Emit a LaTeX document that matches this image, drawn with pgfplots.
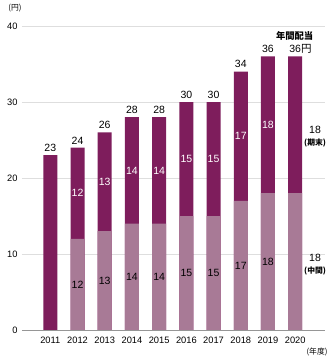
\documentclass[border=0pt]{standalone}
\usepackage{fontspec}
\setmainfont{Liberation Sans}
\newfontfamily\jp{Noto Sans CJK JP}
\usepackage{pgfplots}
\pgfplotsset{compat=1.18}
\usepackage{pgfplotstable}
\usetikzlibrary{calc}
\definecolor{dark}{RGB}{126,29,92}
\definecolor{light}{RGB}{168,122,150}
\definecolor{gridc}{RGB}{222,222,222}
\definecolor{zeroc}{RGB}{150,150,150}
\newcommand\en{\makebox[0pt][l]{\jp 円}}
\pgfplotstableread{
x total interim final tlabel
0 23 0 23 23
1 24 12 12 24
2 26 13 13 26
3 28 14 14 28
4 28 14 14 28
5 30 15 15 30
6 30 15 15 30
7 34 17 17 34
8 36 18 18 36
9 36 18 18 36\en
}\data
\begin{document}
\begin{tikzpicture}
\begin{axis}[
  scale only axis, width=303pt, height=304pt,
  xmin=-1.04, xmax=10.095, ymin=0, ymax=40,
  ytick={0,10,20,30,40},
  xtick={0,...,9}, xticklabels={2011,2012,2013,2014,2015,2016,2017,2018,2019,2020},
  axis line style={draw=none},
  major tick length=0pt,
  ymajorgrids, grid style={draw=gridc, line width=0.8pt},
  tick label style={font=\fontsize{9.3}{10}\selectfont, text=black},
  /pgf/number format/assume math mode=true,
  xticklabel style={yshift=-3pt},
  yticklabel style={xshift=-1pt},
  clip=false,
]
\addplot[ybar, bar width=0.515, bar shift=0pt, fill=dark, draw=none] table[x=x,y=total]{\data};
\addplot[ybar, bar width=0.515, bar shift=0pt, fill=light, draw=none] table[x=x,y=interim]{\data};
\draw[zeroc, line width=0.8pt] (rel axis cs:0,0) -- (rel axis cs:1,0);
% interim labels
\addplot[draw=none, mark=none, restrict x to domain=1:8, nodes near coords, point meta=explicit symbolic,
  every node near coord/.append style={anchor=center, text=black, font=\fontsize{10.5}{11}\selectfont}]
  table[x=x, y expr=\thisrow{interim}/2, meta=interim]{\data};
% year-end labels
\addplot[draw=none, mark=none, restrict x to domain=1:8, nodes near coords, point meta=explicit symbolic,
  every node near coord/.append style={anchor=center, text=white, font=\fontsize{10.5}{11}\selectfont}]
  table[x=x, y expr=\thisrow{interim}+\thisrow{final}/2, meta=final]{\data};
% totals
\addplot[draw=none, mark=none, nodes near coords, point meta=explicit symbolic,
  every node near coord/.append style={anchor=south, text=black, font=\fontsize{10.5}{11}\selectfont}]
  table[x=x, y=total, meta=tlabel]{\data};
\node[font=\jp\bfseries\fontsize{9.3}{10}\selectfont] at (axis cs:8.98,38.75) {年間配当};
\node[font=\fontsize{10.5}{11}\selectfont] at (axis cs:9.73,26.3) {18};
\node[font=\jp\bfseries\fontsize{7.8}{8}\selectfont] at (axis cs:9.73,24.6) {(期末)};
\node[font=\fontsize{10.5}{11}\selectfont] at (axis cs:9.73,9.5) {18};
\node[font=\jp\bfseries\fontsize{7.8}{8}\selectfont] at (axis cs:9.73,7.8) {(中間)};
\node[font=\jp\fontsize{7.8}{8}\selectfont] at ($(rel axis cs:0,1)+(-7pt,18pt)$) {(円)};
\node[font=\jp\fontsize{7.8}{8}\selectfont] at ($(rel axis cs:1,0)+(-8pt,-22pt)$) {(年度)};
\coordinate (sw) at (rel axis cs:0,0);
\coordinate (ne) at (rel axis cs:1,1);
\end{axis}
\pgfresetboundingbox
\path ($(sw)+(-22pt,-29pt)$) rectangle ($(ne)+(9pt,26pt)$);
\end{tikzpicture}
\end{document}
